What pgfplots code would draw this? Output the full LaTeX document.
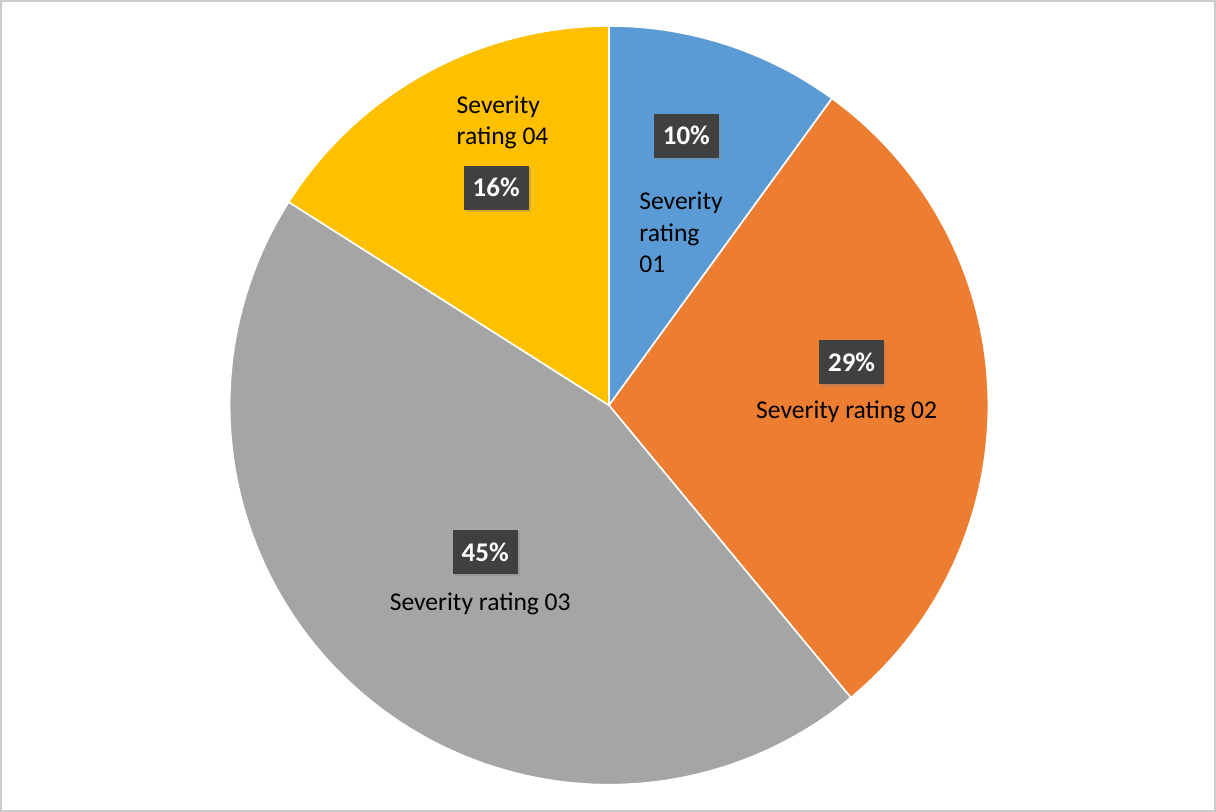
\documentclass[border=0pt]{standalone}
\usepackage{pgfplots}
\pgfplotsset{compat=1.18}
\usepackage{fontspec}
\setmainfont{Carlito}
\usetikzlibrary{shadows}
\definecolor{cblue}{HTML}{5B9BD5}
\definecolor{corange}{HTML}{ED7D31}
\definecolor{cgray}{HTML}{A5A5A5}
\definecolor{cyellow}{HTML}{FFC000}
\definecolor{cbox}{HTML}{404040}
% slice values (percent)
\def\vA{10}
\def\vB{29}
\def\vC{45}
\def\vD{16}
\pgfmathsetmacro{\aA}{90-3.6*\vA}
\pgfmathsetmacro{\aB}{\aA-3.6*\vB}
\pgfmathsetmacro{\aC}{\aB-3.6*\vC}
\pgfmathsetmacro{\aD}{\aC-3.6*\vD}
\begin{document}
\begin{tikzpicture}[
  dlab/.style={fill=cbox, text=white, font=\fontsize{13.5}{15}\selectfont\bfseries,
    inner xsep=4.5pt, inner ysep=0pt, minimum height=22pt,
    drop shadow={shadow xshift=1.2pt, shadow yshift=-1.2pt, opacity=0.3}},
  clab/.style={text=black, font=\fontsize{12.8}{15.7}\selectfont, inner sep=0pt}]
\begin{axis}[width=608pt, height=405.5pt, scale only axis,
  xmin=0, xmax=1216, ymin=0, ymax=811,
  ticks=none, axis line style={draw=black!20, line width=1pt},
  clip=false]
\addplot[fill=cblue, draw=white, line width=0.8pt, domain=\aA:90, samples=60, variable=\t]
  ({609+380*cos(\t)},{406+380*sin(\t)}) -- (axis cs:609,406) -- cycle;
\addplot[fill=corange, draw=white, line width=0.8pt, domain=\aB:\aA, samples=100, variable=\t]
  ({609+380*cos(\t)},{406+380*sin(\t)}) -- (axis cs:609,406) -- cycle;
\addplot[fill=cgray, draw=white, line width=0.8pt, domain=\aC:\aB, samples=140, variable=\t]
  ({609+380*cos(\t)},{406+380*sin(\t)}) -- (axis cs:609,406) -- cycle;
\addplot[fill=cyellow, draw=white, line width=0.8pt, domain=\aD:\aC, samples=60, variable=\t]
  ({609+380*cos(\t)},{406+380*sin(\t)}) -- (axis cs:609,406) -- cycle;
% data labels
\node[dlab] at (axis cs:686.5,676) {10\%};
\node[dlab] at (axis cs:852,449) {29\%};
\node[dlab] at (axis cs:485,259) {45\%};
\node[dlab] at (axis cs:496,624) {16\%};
% category labels
\node[clab, anchor=west, align=left] at (axis cs:639,579) {Severity\\rating\\01};
\node[clab] at (axis cs:847,399) {Severity rating 02};
\node[clab] at (axis cs:480,207) {Severity rating 03};
\node[clab, anchor=west, align=left] at (axis cs:456,689.5) {Severity\\rating 04};
\end{axis}
\end{tikzpicture}
\end{document}
